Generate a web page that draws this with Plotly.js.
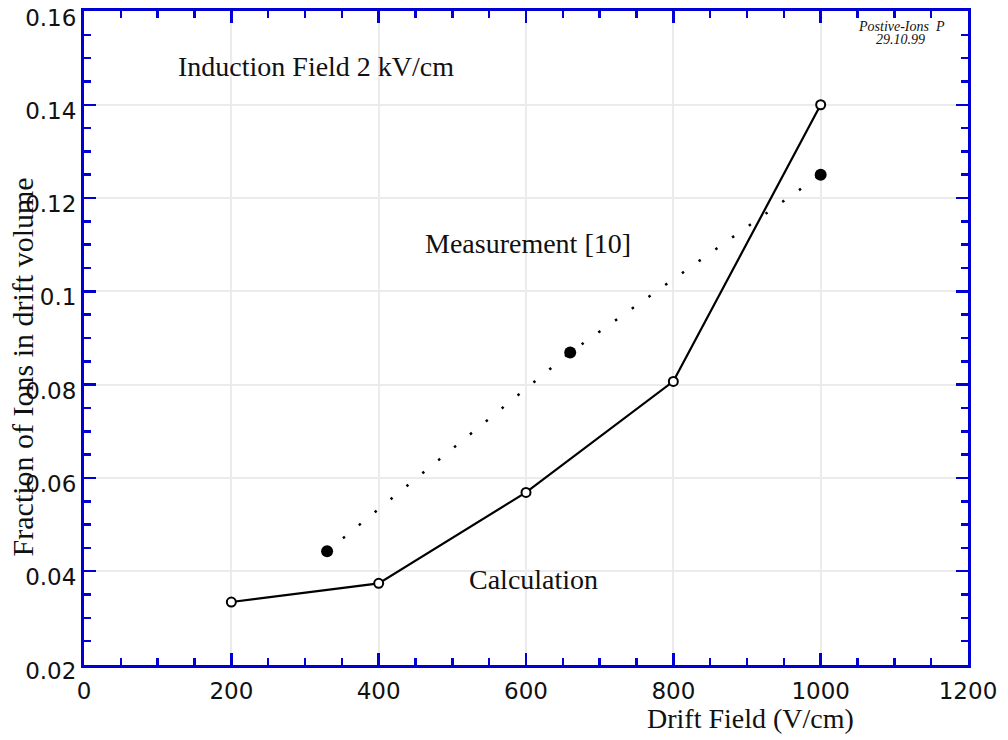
<!DOCTYPE html>
<html>
<head>
<meta charset="utf-8">
<script src="https://cdn.plot.ly/plotly-3.0.1.min.js"></script>
<style>html,body{margin:0;padding:0;background:#fff;}#chart{width:1008px;height:740px;}</style>
</head>
<body>
<div id="chart"></div>
<script>
// Data
const calcField = [200, 400, 600, 800, 1000];
const calcFraction = [0.0334, 0.0374, 0.0569, 0.0807, 0.140];
const measField = [330, 660, 1000];
const measFraction = [0.0443, 0.0869, 0.125];
const xTickVals = [0, 200, 400, 600, 800, 1000, 1200];
const yTickVals = [0.02, 0.04, 0.06, 0.08, 0.1, 0.12, 0.14, 0.16];
const yTickText = ["0.02", "0.04", "0.06", "0.08", "0.1", "0.12", "0.14", "0.16"];

const blue = "#0000d4";
const serif = "Liberation Serif, Times New Roman, serif";

const traces = [
  {
    x: measField, y: measFraction, type: "scatter", mode: "lines+markers",
    line: {color: "#000", width: 2.5, dash: "2.5px,18px"},
    marker: {symbol: "circle", size: 12, color: "#000"},
    showlegend: false, cliponaxis: false
  },
  {
    x: calcField, y: calcFraction, type: "scatter", mode: "lines+markers",
    line: {color: "#000", width: 2.2},
    marker: {symbol: "circle", size: 9, color: "#fff", line: {color: "#000", width: 2}},
    showlegend: false, cliponaxis: false
  }
];

const axisCommon = {
  showline: true, linecolor: blue, linewidth: 3, mirror: "allticks",
  ticks: "inside", tickcolor: blue, tickwidth: 2.5, ticklen: 12,
  showgrid: true, gridcolor: "#ebebeb", gridwidth: 2, zeroline: false,
  tickfont: {family: "DejaVu Sans, sans-serif", size: 23, color: "#111"}
};

const layout = {
  width: 1008, height: 740,
  margin: {l: 84, r: 40, t: 11, b: 75},
  paper_bgcolor: "#fff", plot_bgcolor: "#fff",
  xaxis: Object.assign({}, axisCommon, {
    range: [0, 1200], tickmode: "array", tickvals: xTickVals,
    ticklabelstandoff: 3,
    minor: {dtick: 50, ticks: "inside", ticklen: 7, tickcolor: blue, tickwidth: 2.5, showgrid: false}
  }),
  yaxis: Object.assign({}, axisCommon, {
    range: [0.0199, 0.1601], tickmode: "array", tickvals: yTickVals, ticktext: yTickText,
    ticklabelshift: 6,
    minor: {dtick: 0.005, ticks: "inside", ticklen: 7, tickcolor: blue, tickwidth: 2.5, showgrid: false}
  }),
  annotations: [
    {text: "Drift Field (V/cm)", xref: "paper", yref: "paper", x: 0.7545, y: 0, yshift: -53,
     xanchor: "center", yanchor: "middle", showarrow: false, font: {family: serif, size: 28, color: "#111"}},
    {text: "Fraction of Ions in drift volume", xref: "paper", yref: "paper", x: 0, xshift: -62, y: 0.455,
     xanchor: "center", yanchor: "middle", textangle: -90, showarrow: false, font: {family: serif, size: 30, color: "#111"}},
    {text: "Induction Field 2 kV/cm", xref: "x", yref: "y", x: 315, y: 0.1481,
     showarrow: false, font: {family: serif, size: 28, color: "#111"}},
    {text: "Measurement [10]", xref: "x", yref: "y", x: 603, y: 0.1102,
     showarrow: false, font: {family: serif, size: 28, color: "#111"}},
    {text: "Calculation", xref: "x", yref: "y", x: 610, y: 0.0383,
     showarrow: false, font: {family: serif, size: 28, color: "#111"}},
    {text: "<i>Postive-Ions  P</i>", xref: "paper", yref: "paper", x: 0.925, y: 1, yshift: -15,
     xanchor: "center", yanchor: "middle", showarrow: false, font: {family: serif, size: 14, color: "#111"}},
    {text: "<i>29.10.99</i>", xref: "paper", yref: "paper", x: 0.924, y: 1, yshift: -28,
     xanchor: "center", yanchor: "middle", showarrow: false, font: {family: serif, size: 14, color: "#111"}}
  ]
};

Plotly.newPlot("chart", traces, layout, {displayModeBar: false, staticPlot: true});
</script>
</body>
</html>
